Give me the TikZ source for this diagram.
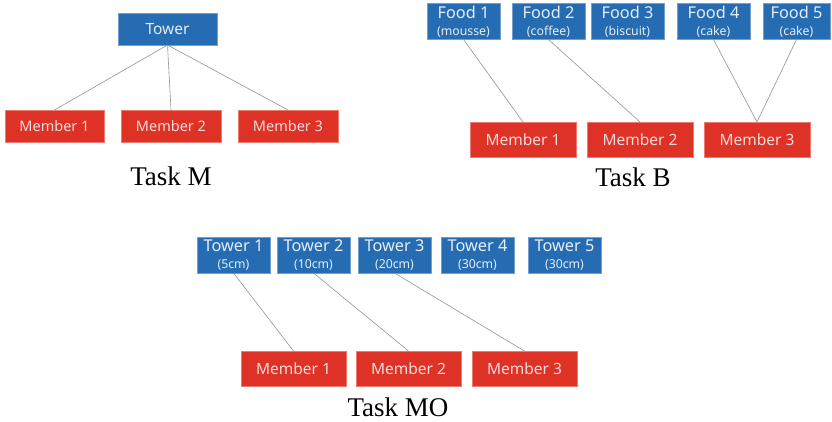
\documentclass[tikz,border=0pt]{standalone}
\usepackage{fontspec}
\setmainfont{Liberation Serif}
\newfontfamily\boxfont{Noto Sans}
\usetikzlibrary{positioning}
\definecolor{itemblue}{RGB}{38,108,178}
\definecolor{memberred}{RGB}{222,50,38}
\newcommand{\sublabel}[1]{{\fontsize{12.3}{13}\selectfont #1}}

\begin{document}
\begin{tikzpicture}[x=1pt, y=-1pt,
  item/.style={fill=itemblue, draw=itemblue!65!white, line width=.6pt,
               text=itemblue!12!white, inner sep=0pt, outer sep=0pt, align=center,
               minimum width=73pt, minimum height=36pt,
               font=\boxfont\fontsize{16.3}{17}\selectfont},
  member/.style={fill=memberred, draw=memberred!65!white, line width=.6pt,
                 text=memberred!18!white, inner sep=0pt, outer sep=0pt, align=center,
                 minimum width=105pt, minimum height=35pt,
                 font=\boxfont\fontsize{15.5}{16}\selectfont},
  link/.style={draw=gray!85, line width=.6pt},
  task/.style={font=\fontsize{27}{30}\selectfont}
]
\useasboundingbox (0,0) rectangle (832,421);

% Task M: one tower shared by the three members
\node[item, minimum width=99pt, minimum height=32pt,
      font=\boxfont\fontsize{15.5}{16}\selectfont] (tower) at (167.5,29) {Tower};
\node[member, minimum width=99pt, minimum height=32pt,
      font=\boxfont\fontsize{14.5}{16}\selectfont] (mA1) at (54.5,126) {Member 1};
\node[member, minimum width=100pt, minimum height=32pt,
      font=\boxfont\fontsize{14.5}{16}\selectfont, right=17pt of mA1] (mA2) {Member 2};
\node[member, minimum width=100pt, minimum height=32pt,
      font=\boxfont\fontsize{14.5}{16}\selectfont, right=17pt of mA2] (mA3) {Member 3};
\draw[link] (tower.south) -- (mA1.north);
\draw[link] (tower.south) -- (mA2.north);
\draw[link] (tower.south) -- (mA3.north);
\node[task] (taskm) at (171,176) {Task M};

% Task B: five foods, members pick some of them
\node[item] (food1) at (463.5,21.5) {Food 1\\\sublabel{(mousse)}};
\node[item, right=12pt of food1] (food2) {Food 2\\\sublabel{(coffee)}};
\node[item, right=6pt of food2]  (food3) {Food 3\\\sublabel{(biscuit)}};
\node[item, right=13pt of food3] (food4) {Food 4\\\sublabel{(cake)}};
\node[item, minimum width=67pt, right=13pt of food4] (food5) {Food 5\\\sublabel{(cake)}};
\node[member, minimum width=106pt] (mB1) at (523,139.5) {Member 1};
\node[member, minimum width=106pt, right=11pt of mB1] (mB2) {Member 2};
\node[member, minimum width=106pt, right=11pt of mB2] (mB3) {Member 3};
\draw[link] (food1.south) -- (mB1.north);
\draw[link] (food2.south) -- (mB2.north);
\draw[link] (food4.south) -- (mB3.north);
\draw[link] (food5.south) -- (mB3.north);
\node[task] (taskb) at (633,177) {Task B};

% Task MO: towers of different heights
\node[item] (tow1) at (233.5,255) {Tower 1\\\sublabel{(5cm)}};
\node[item, right=7pt of tow1]  (tow2) {Tower 2\\\sublabel{(10cm)}};
\node[item, right=8pt of tow2]  (tow3) {Tower 3\\\sublabel{(20cm)}};
\node[item, right=10pt of tow3] (tow4) {Tower 4\\\sublabel{(30cm)}};
\node[item, right=14pt of tow4] (tow5) {Tower 5\\\sublabel{(30cm)}};
\node[member] (mC1) at (293.5,368.5) {Member 1};
\node[member, right=10pt of mC1] (mC2) {Member 2};
\node[member, right=11pt of mC2] (mC3) {Member 3};
\draw[link] (tow1.south) -- (mC1.north);
\draw[link] (tow2.south) -- (mC2.north);
\draw[link] (tow3.south) -- (mC3.north);
\node[task] (taskmo) at (398,407) {Task MO};
\end{tikzpicture}
\end{document}
